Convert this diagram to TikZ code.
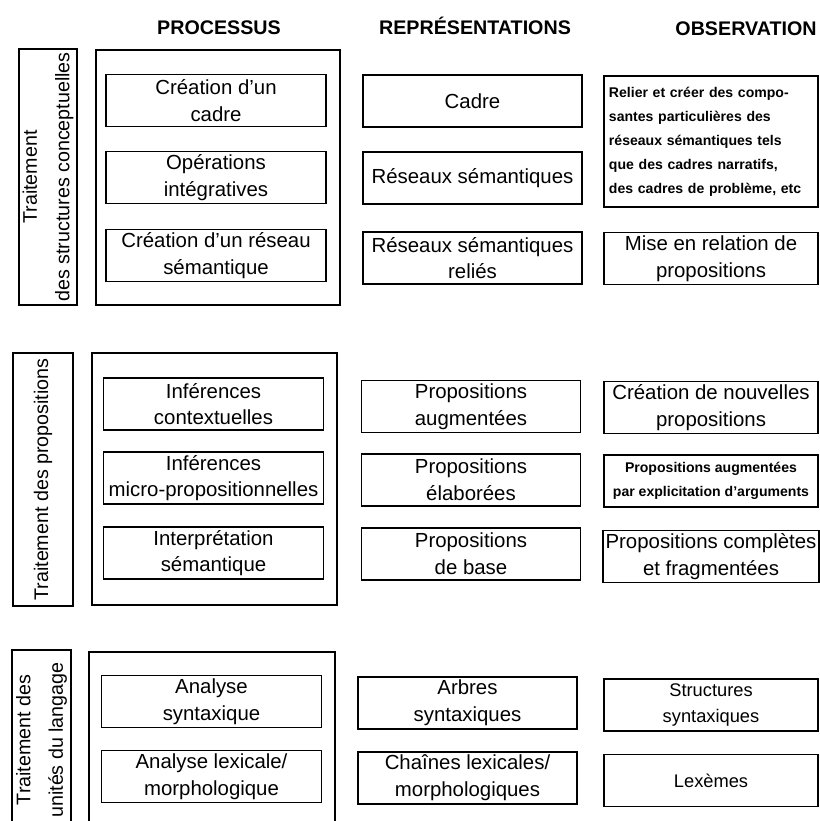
\documentclass[tikz,border=0pt]{standalone}
\usepackage{fontspec}
\setmainfont{Liberation Sans}
\tikzset{
  boks/.style={draw,line width=1.2pt,inner sep=2pt,align=center,minimum height=1.3cm,font=\fontsize{14.5}{19}\selectfont},
  proc/.style={boks,minimum width=5.5cm},
  repr/.style={boks,minimum width=5.475cm},
  obs/.style={boks,minimum width=5.35cm},
  lille/.style={font=\fontsize{10}{17}\selectfont\bfseries},
  ramme/.style={line width=1.2pt},
  overskrift/.style={anchor=base,font=\fontsize{14}{17}\selectfont\bfseries},
  sidefelt/.style={draw,line width=1.2pt,rotate=90,align=center,inner sep=0pt,font=\fontsize{14}{23}\selectfont}
}
\begin{document}
\begin{tikzpicture}[x=0.025cm,y=-0.025cm]
  \useasboundingbox (0,0) rectangle (820,821);
  \clip (0,0) rectangle (820,821);
  \node[overskrift] (hproc) at (219,35) {PROCESSUS}; %overskrifter
  \node[overskrift] (hrepr) at (475,35) {REPRÉSENTATIONS};
  \node[overskrift] (hobs) at (746,36) {OBSERVATION};
  % strukturer
  \node[sidefelt,minimum width=6.4cm,minimum height=1.45cm] (s1) at (48,177) {Traitement\\des structures conceptuelles};
  \draw[ramme] (96,50) rectangle (340,305); %ramme om processer
  \node[proc] (p11) at (216,100.5) {Création d'un\\cadre};
  \node[proc] (p12) at (216,177.5) {Opérations\\intégratives};
  \node[proc] (p13) at (216,255.5) {Création d'un réseau\\sémantique};
  \node[repr] (r11) at (472.5,101) {Cadre};
  \node[repr] (r12) at (472.5,178) {Réseaux sémantiques};
  \node[repr] (r13) at (472.5,258) {Réseaux sémantiques\\reliés};
  \node[boks,lille,align=left,minimum width=5.35cm,minimum height=3.275cm,text width=5.1cm] (o11) at (711,141.5)
    {Relier et créer des compo-\\santes particulières des\\réseaux sémantiques tels\\que des cadres narratifs,\\des cadres de problème, etc};
  \node[obs] (o13) at (711,258.5) {Mise en relation de\\propositions};
  % propositioner
  \node[sidefelt,minimum width=6.325cm,minimum height=1.5cm] (s2) at (43,479.5) {Traitement des propositions};
  \draw[ramme] (92,353) rectangle (337,605); %ramme om processer
  \node[proc] (p21) at (213.5,404) {Inférences\\contextuelles};
  \node[proc] (p22) at (213.5,478) {Inférences\\micro-propositionnelles};
  \node[proc] (p23) at (213.5,553) {Interprétation\\sémantique};
  \node[repr] (r21) at (471,406.5) {Propositions\\augmentées};
  \node[repr] (r22) at (471,480) {Propositions\\élaborées};
  \node[repr] (r23) at (471,554) {Propositions\\de base};
  \node[obs] (o21) at (711,407.5) {Création de nouvelles\\propositions};
  \node[obs,lille] (o22) at (711,481) {Propositions augmentées\\par explicitation d'arguments};
  \node[obs] (o23) at (711,556.5) {Propositions complètes\\et fragmentées};
  % sprogenheder
  \node[sidefelt,minimum width=4.5cm,minimum height=1.475cm] (s3) at (41.5,740) {Traitement des\\unités du langage};
  \draw[ramme] (89,652) rectangle (335,840); %ramme om processer
  \node[proc] (p31) at (211.5,701.5) {Analyse\\syntaxique};
  \node[proc] (p32) at (211.5,776.5) {Analyse lexicale/\\morphologique};
  \node[repr] (r31) at (467.5,703) {Arbres\\syntaxiques};
  \node[repr] (r32) at (467.5,778) {Chaînes lexicales/\\morphologiques};
  \node[obs,font=\fontsize{13}{18}\selectfont] (o31) at (711,705) {Structures\\syntaxiques};
  \node[obs,font=\fontsize{13}{18}\selectfont] (o32) at (711,780.5) {Lexèmes};
\end{tikzpicture}
\end{document}
